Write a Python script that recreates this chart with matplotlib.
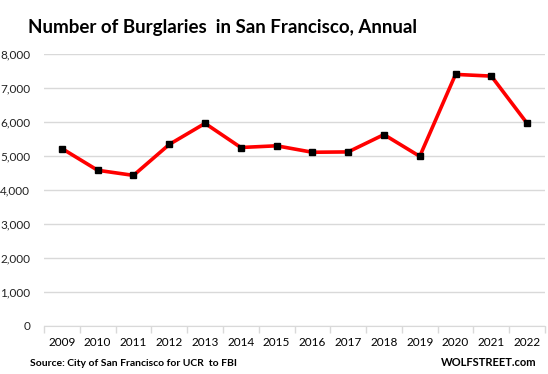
import matplotlib
matplotlib.use("Agg")
import matplotlib.pyplot as plt
import numpy as np

years = ["2009", "2010", "2011", "2012", "2013", "2014", "2015", "2016",
         "2017", "2018", "2019", "2020", "2021", "2022"]
burglaries = [5220, 4580, 4430, 5340, 5960, 5250, 5300, 5110, 5120, 5630,
              4990, 7400, 7350, 5960]
y_ticks = [0, 1000, 2000, 3000, 4000, 5000, 6000, 7000, 8000]

plt.rcParams['font.family'] = ['Lato', 'DejaVu Sans']

fig = plt.figure(figsize=(5.48, 3.74), dpi=100)
ax = fig.add_axes([44/548, 1-326/374, 501/548, 272/374])

x = np.arange(len(years))
ax.plot(x, burglaries, color='#ff0000', lw=2.6, marker='s', markersize=5,
        markerfacecolor='black', markeredgecolor='black', zorder=3,
        solid_joinstyle='miter')

ax.set_xlim(-0.5, len(years)-0.5)
ax.set_ylim(0, 8000)
ax.set_yticks(y_ticks)
ax.set_yticklabels([f"{v:,}" for v in y_ticks])
ax.yaxis.grid(True, color='#d9d9d9', lw=1)
ax.set_axisbelow(True)
for s in ['top', 'right', 'left']:
    ax.spines[s].set_visible(False)
ax.spines['bottom'].set_color('#d9d9d9')
ax.tick_params(axis='y', length=0, pad=10, labelsize=8.5, labelcolor='#222222')

ax.set_xticks(x)
ax.set_xticklabels(years)
ax.set_xticks(np.arange(-0.5, len(years), 1), minor=True)
ax.tick_params(axis='x', which='major', length=0, pad=8, labelsize=8.5, labelcolor='black')
ax.tick_params(axis='x', which='minor', length=5, color='#d9d9d9', width=1)

fig.text(28/548, 1-27/374, "Number of Burglaries  in San Francisco, Annual",
         fontsize=13.5, fontweight='bold', va='center', ha='left')
fig.text(30/548, 1-363/374, "Source: City of San Francisco for UCR  to FBI",
         fontsize=7.5, fontweight='bold', va='center', ha='left')
fig.text(537/548, 1-363/374, "WOLFSTREET.com",
         fontsize=8, fontweight='bold', va='center', ha='right')

fig.savefig("out.png", dpi=100)
